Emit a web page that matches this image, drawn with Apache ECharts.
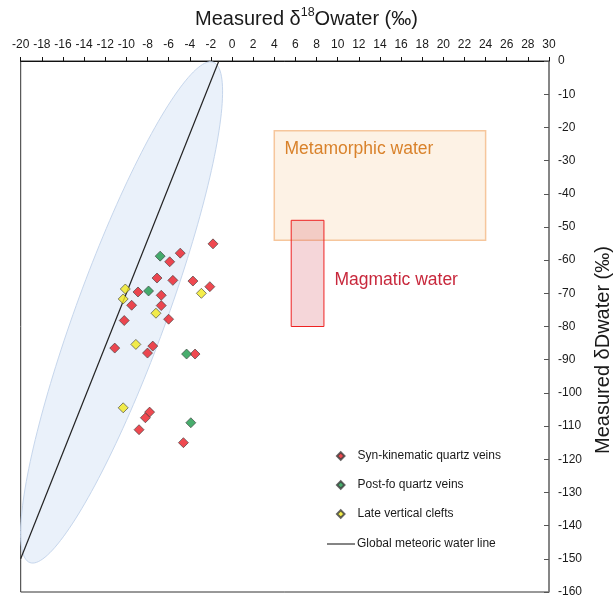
<!DOCTYPE html>
<html>
<head>
<meta charset="utf-8">
<script src="https://cdn.jsdelivr.net/npm/echarts@6/dist/echarts.min.js"></script>
<style>
html,body{margin:0;padding:0;background:#fff;}
#chart{width:613px;height:601px;}
</style>
</head>
<body>
<div id="chart"></div>
<script>
// ---- data (δ18O ‰, δD ‰) ----
const synKinematic = [
  [-1.8,-55.1],[-4.9,-57.9],[-5.9,-60.5],[-7.1,-65.4],[-5.6,-66.1],[-3.7,-66.3],
  [-2.1,-68.0],[-8.9,-69.6],[-6.7,-70.6],[-9.5,-73.6],[-6.7,-73.7],[-10.2,-78.2],
  [-6.0,-77.8],[-11.1,-86.5],[-7.5,-85.9],[-8.0,-88.0],[-3.5,-88.3],[-7.8,-105.8],
  [-8.2,-107.5],[-8.8,-111.1],[-4.6,-115.0]
];
const postFo = [[-6.8,-58.8],[-7.9,-69.3],[-4.3,-88.3],[-3.9,-109.0]];
const lateClefts = [[-10.1,-68.7],[-10.3,-71.7],[-2.9,-70.0],[-7.2,-76.0],[-9.1,-85.4],[-10.3,-104.5]];
const gmwl = [[-20,-150],[-1.25,0]];
const metamorphicBox = [[4,-21],[24,-54]];
const magmaticBox = [[5.6,-48],[8.7,-80]];
const meteoricEllipseAxis = [[-1.9,-1.5],[-19.0,-150]];
const xTicks = {min:-20, max:30, interval:2};
const yTicks = {min:-160, max:0, interval:10};
const seriesNames = ['Syn-kinematic quartz veins','Post-fo quartz veins','Late vertical clefts','Global meteoric water line'];

const FONT = '"Liberation Sans", Arial, sans-serif';
const chart = echarts.init(document.getElementById('chart'), null, {renderer:'canvas'});

const mk = (color) => ({
  type:'scatter', symbol:'diamond', symbolSize:10, z:6,
  itemStyle:{color:color, borderColor:'#3c3c3c', borderWidth:0.8}
});

const option = {
  animation:false,
  backgroundColor:'#fff',
  textStyle:{fontFamily:FONT},
  title:{
    text:'{a|Measured δ}{s|18}{a|Owater (‰)}',
    left:'center', top:1,
    textStyle:{fontWeight:'normal', rich:{
      a:{fontSize:20, fontWeight:'normal', fontFamily:FONT, color:'#1a1a1a', verticalAlign:'bottom', lineHeight:23},
      s:{fontSize:12.5, fontWeight:'normal', fontFamily:FONT, color:'#1a1a1a', verticalAlign:'top', lineHeight:23, padding:[0,0,8,0]}
    }}
  },
  grid:{left:20.7, right:64, top:61, bottom:9, show:true, borderColor:'#333', borderWidth:1, backgroundColor:'transparent'},
  xAxis:{
    type:'value', position:'top', min:xTicks.min, max:xTicks.max, interval:xTicks.interval,
    axisLine:{show:true, onZero:false, lineStyle:{color:'#111', width:1}},
    axisTick:{show:true, inside:false, length:4, lineStyle:{color:'#111'}},
    axisLabel:{show:true, margin:10, fontSize:12, color:'#1a1a1a', fontFamily:FONT, showMinLabel:true, showMaxLabel:true, hideOverlap:false},
    splitLine:{show:false}
  },
  yAxis:{
    type:'value', position:'right', min:yTicks.min, max:yTicks.max, interval:yTicks.interval,
    axisLine:{show:true, onZero:false, lineStyle:{color:'#808080', width:1.5}},
    axisTick:{show:true, inside:true, length:5, lineStyle:{color:'#555'}},
    axisLabel:{show:true, margin:9, fontSize:12, color:'#1a1a1a', fontFamily:FONT, showMinLabel:true, showMaxLabel:true},
    splitLine:{show:false}
  },
  legend:[{
    data:seriesNames.slice(0,3), orient:'vertical', left:331, top:445,
    icon:'diamond', itemWidth:7.5, itemHeight:7.5, itemGap:17,
    textStyle:{fontSize:12, color:'#1a1a1a', fontFamily:FONT, padding:[0,0,0,8]},
    selectedMode:false
  },{
    data:[{name:seriesNames[3], icon:'rect', itemStyle:{color:'#333'}}], orient:'vertical', left:322, top:533,
    itemWidth:28, itemHeight:1.2, textStyle:{fontSize:12, color:'#1a1a1a', fontFamily:FONT, padding:[0,0,0,-3]},
    selectedMode:false
  }],
  graphic:[{
    type:'text', x:603, y:350, rotation:Math.PI/2,
    style:{text:'Measured δDwater (‰)', fontSize:20, fontFamily:FONT, fill:'#1a1a1a', align:'center', verticalAlign:'middle'}
  }],
  series:[
    {
      type:'custom', name:'ellipse', z:1, silent:true,
      data:[[meteoricEllipseAxis[0][0], meteoricEllipseAxis[0][1]]],
      renderItem:function(params, api){
        const p1 = api.coord(meteoricEllipseAxis[0]);
        const p2 = api.coord(meteoricEllipseAxis[1]);
        const cx = (p1[0]+p2[0])/2, cy = (p1[1]+p2[1])/2;
        const dx = p1[0]-p2[0], dy = p1[1]-p2[1];
        const half = Math.sqrt(dx*dx+dy*dy)/2;
        const a = half + 4;
        const b = 45;
        const ux = dx/(2*half), uy = dy/(2*half);
        const vx = -uy, vy = ux;
        const pts = [];
        for(let i=0;i<180;i++){
          const t = i/180*Math.PI*2;
          const c = Math.cos(t), s = Math.sin(t);
          pts.push([cx + a*c*ux + b*s*vx, cy + a*c*uy + b*s*vy]);
        }
        return {type:'polygon', shape:{points:pts}, style:{fill:'rgba(226,236,248,0.72)', stroke:'#c6d6ec', lineWidth:1}};
      }
    },
    {
      type:'line', name:seriesNames[3], data:gmwl, symbol:'none', z:4,
      lineStyle:{color:'#222', width:1.2}, itemStyle:{color:'#222'},
      markArea:{
        silent:true,
        data:[
          [{coord:metamorphicBox[0], itemStyle:{color:'rgba(253,240,224,0.85)', borderColor:'#f6c69c', borderWidth:1.5},
            label:{show:true, position:'insideTopLeft', distance:8, offset:[3,2], formatter:'Metamorphic water', color:'#d9822b', fontSize:17.5, fontFamily:FONT}},
           {coord:metamorphicBox[1]}],
          [{coord:magmaticBox[0], itemStyle:{color:'rgba(215,90,105,0.25)', borderColor:'#ee2222', borderWidth:1},
            label:{show:true, position:'right', distance:10, offset:[0,7], formatter:'Magmatic water', color:'#c8283c', fontSize:17.5, fontFamily:FONT}},
           {coord:magmaticBox[1]}]
        ]
      }
    },
    Object.assign(mk('#eb1c24'), {name:seriesNames[0], data:synKinematic}),
    Object.assign(mk('#1a9948'), {name:seriesNames[1], data:postFo}),
    Object.assign(mk('#f2ea1e'), {name:seriesNames[2], data:lateClefts})
  ]
};
chart.setOption(option);
</script>
</body>
</html>
